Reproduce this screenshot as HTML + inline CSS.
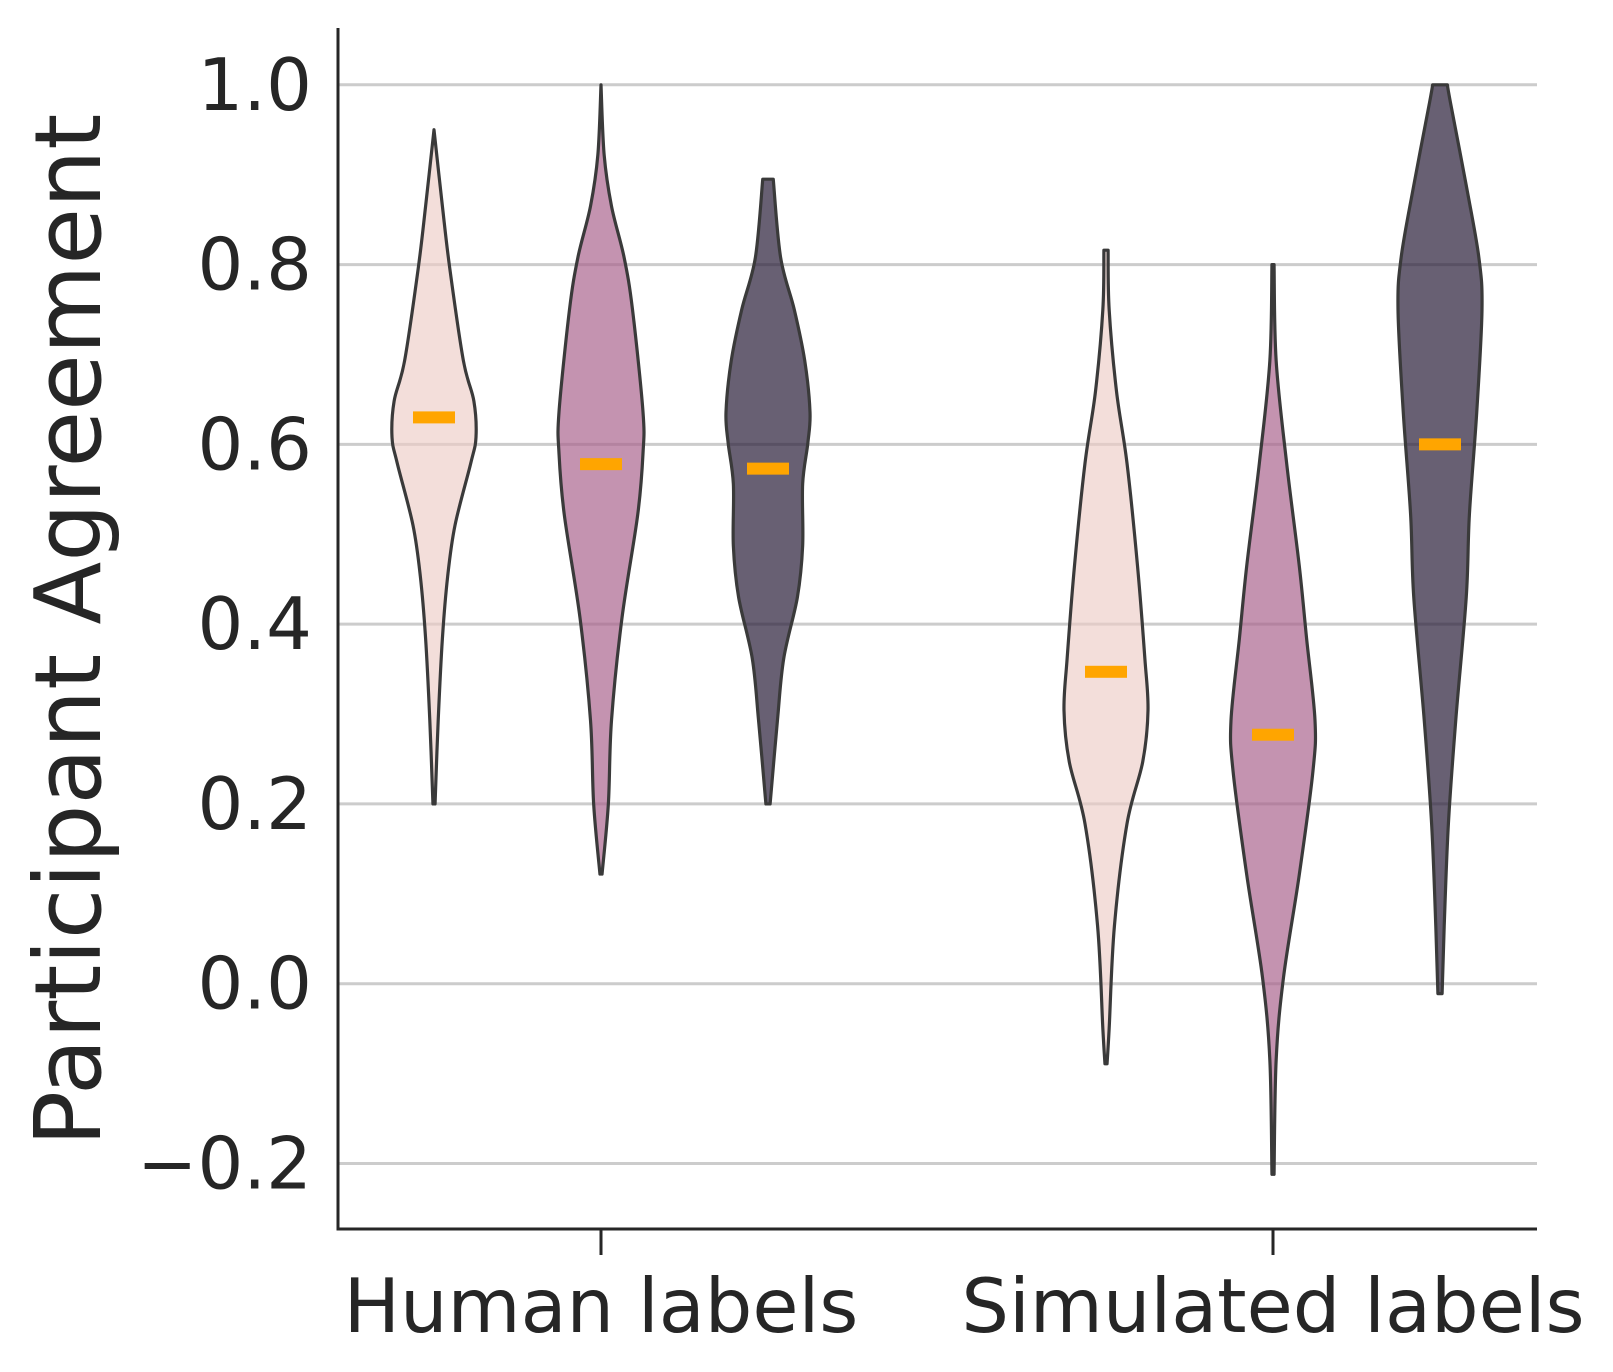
<!DOCTYPE html>
<html><head><meta charset="utf-8"><style>
html,body{margin:0;padding:0;background:#fff}
svg{display:block}
text{font-family:"DejaVu Sans","Liberation Sans",sans-serif;fill:#262626}
</style></head><body>
<svg id="chart" width="1613" height="1372" viewBox="0 0 1613 1372" xmlns="http://www.w3.org/2000/svg">
<g id="grid"></g>
<g id="violins"></g>
<g id="axes"></g>
</svg>
<script>
const groups = ["Human labels", "Simulated labels"];
const yTicks = [-0.2, 0, 0.2, 0.4, 0.6, 0.8, 1.0];
const yTickLabels = ["\u22120.2", "0.0", "0.2", "0.4", "0.6", "0.8", "1.0"];
const violinGroup = [0,0,0,1,1,1];
const violinSub = [0,1,2,0,1,2];
const violinMeans = [0.63, 0.578, 0.573, 0.347, 0.277, 0.60];
const v1Y = [0.95,0.865,0.796,0.693,0.648,0.608,0.579,0.51,0.453,0.384,0.293,0.2];
const v1W = [0,8,15,28,38,40,35,20,13,8,4,1];
const v2Y = [1.0,0.922,0.865,0.808,0.75,0.636,0.59,0.522,0.407,0.293,0.2,0.122];
const v2W = [0,3,10,22,30,40,40,35,20,10,7,1];
const v3Y = [0.895,0.808,0.75,0.693,0.636,0.602,0.556,0.487,0.43,0.362,0.293,0.2];
const v3W = [5,12,25,35,40,38,33,33,28,15,9,2];
const v4Y = [0.816,0.75,0.659,0.579,0.465,0.362,0.304,0.247,0.178,0.064,-0.05,-0.089];
const v4W = [2,3,10,20,30,37,40,35,20,8,3,1];
const v5Y = [0.8,0.693,0.579,0.465,0.384,0.293,0.236,0.121,0.007,-0.085,-0.212];
const v5W = [1,3,13,25,32,40,38,25,10,3,1];
const v6Y = [1.0,0.98,0.888,0.808,0.75,0.636,0.522,0.43,0.293,0.178,0.064,-0.011];
const v6W = [7,10,25,37,40,35,28,25,15,8,4,2];
const violinYs = [v1Y,v2Y,v3Y,v4Y,v5Y,v6Y];
const violinWs = [v1W,v2W,v3W,v4W,v5W,v6W];

const NS = "http://www.w3.org/2000/svg";
const L = 338, R = 1537, B = 1229, T = 28;
const yScale = v => 84.8 + (1.0 - v) * (1163.5 - 84.8) / 1.2;
const groupX = [601, 1273];
const subOff = [-167, 0, 167];
const xPos = (g, s) => groupX[g] + subOff[s];
const wScale = w => w * 42 / 40;
const fills = ["rgba(236,205,198,0.65)", "rgba(168,96,138,0.68)", "rgba(40,28,55,0.7)"];

function mk(tag, attrs, parent) {
  const e = document.createElementNS(NS, tag);
  for (const k in attrs) e.setAttribute(k, attrs[k]);
  parent.appendChild(e);
  return e;
}
function smooth(pts) {
  let d = 'M' + pts[0][0] + ' ' + pts[0][1];
  for (let i = 0; i < pts.length - 1; i++) {
    const p0 = pts[Math.max(0, i - 1)], p1 = pts[i], p2 = pts[i + 1], p3 = pts[Math.min(pts.length - 1, i + 2)];
    const c1x = p1[0] + (p2[0] - p0[0]) / 6, c1y = p1[1] + (p2[1] - p0[1]) / 6;
    const c2x = p2[0] - (p3[0] - p1[0]) / 6, c2y = p2[1] - (p3[1] - p1[1]) / 6;
    d += ' C' + c1x + ' ' + c1y + ' ' + c2x + ' ' + c2y + ' ' + p2[0] + ' ' + p2[1];
  }
  return d;
}
const grid = document.getElementById('grid');
const vg = document.getElementById('violins');
const ax = document.getElementById('axes');

yTicks.forEach((t, i) => {
  const y = yScale(t);
  const ln = mk('line', {x1: L, x2: R, y1: y, y2: y, stroke: '#cccccc', 'stroke-width': 3}, grid);
  
  
  const tx = mk('text', {x: 312, y: y + 25, 'text-anchor': 'end', 'font-size': 72}, ax);
  tx.textContent = yTickLabels[i];
  
  
});

violinYs.forEach((ys, i) => {
  const cx = xPos(violinGroup[i], violinSub[i]);
  const ws = violinWs[i];
  const right = ys.map((v, j) => [cx + wScale(ws[j]), yScale(v)]);
  const left = ys.map((v, j) => [cx - wScale(ws[j]), yScale(v)]).reverse();
  const d = smooth(right) + ' L' + left[0][0] + ' ' + left[0][1] + smooth(left).replace(/^M[^C]*/, ' ') + ' Z';
  const p = mk('path', {d: d, fill: fills[violinSub[i]], stroke: '#3a3a3a', 'stroke-width': 3.2, 'stroke-linejoin': 'round'}, vg);
  
  
  const my = yScale(violinMeans[i]);
  const m = mk('rect', {x: cx - 21, y: my - 6, width: 42, height: 12, fill: '#ffa500'}, vg);
  
  
});

const sl = mk('line', {x1: L, x2: L, y1: T, y2: B + 1.5, stroke: '#262626', 'stroke-width': 3}, ax);


const sb = mk('line', {x1: L - 1.5, x2: R, y1: B, y2: B, stroke: '#262626', 'stroke-width': 3}, ax);


groups.forEach((g, i) => {
  const x = groupX[i];
  const tk = mk('line', {x1: x, x2: x, y1: B, y2: B + 26, stroke: '#262626', 'stroke-width': 3}, ax);
  
  
  const tx = mk('text', {x: x, y: 1332, 'text-anchor': 'middle', 'font-size': 75}, ax);
  tx.textContent = g;
  
  
});
const yl = mk('text', {x: 0, y: 0, 'text-anchor': 'middle', 'font-size': 92, transform: 'translate(100,630) rotate(-90)'}, ax);
yl.textContent = 'Participant Agreement';


</script>
</body></html>
